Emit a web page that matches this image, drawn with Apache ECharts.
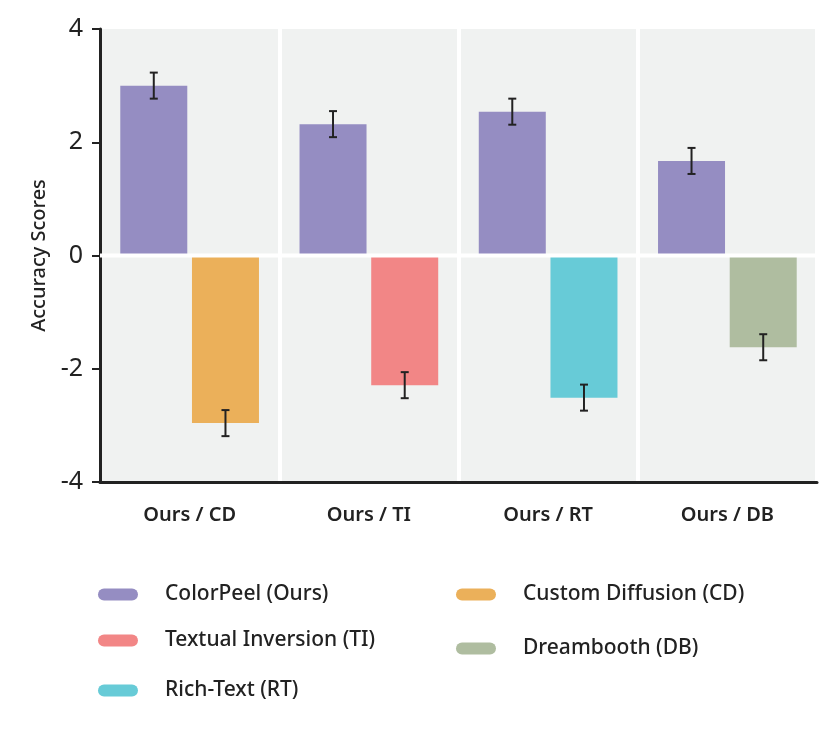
<!DOCTYPE html>
<html>
<head>
<meta charset="utf-8">
<script src="https://cdn.jsdelivr.net/npm/echarts@6/dist/echarts.min.js"></script>
<style>
  html, body { margin: 0; padding: 0; background: #fff; }
  #chart { width: 832px; height: 741px; }
</style>
</head>
<body>
<div id="chart"></div>
<script>
// data
const categories = ['Ours / CD', 'Ours / TI', 'Ours / RT', 'Ours / DB'];
const oursName = 'ColorPeel (Ours)';
const oursValues = [3.0, 2.32, 2.54, 1.67];
const oursErr = [0.23, 0.23, 0.23, 0.23];
const baselineNames = ['Custom Diffusion (CD)', 'Textual Inversion (TI)', 'Rich-Text (RT)', 'Dreambooth (DB)'];
const baselineValues = [-2.96, -2.29, -2.51, -1.62];
const baselineErr = [0.23, 0.23, 0.23, 0.23];

const colors = {
    ours: '#958dc2',
    baselines: ['#ebb05a', '#f28686', '#67cbd7', '#afbda0']
};

const barWidth = 67;
const barGapPct = 7;
const errOffset = barWidth * (1 + barGapPct / 100) / 2;
const fontFamily = '"Noto Sans", sans-serif';

let chartDom = document.getElementById('chart');
let chart = echarts.init(chartDom);

// one stack for all baselines so they share the second slot
const baselineSeries = baselineNames.map((name, i) => ({
    name: name,
    type: 'bar',
    stack: 'baseline',
    barWidth: barWidth,
    itemStyle: { color: colors.baselines[i] },
    data: categories.map((c, j) => (j === i ? baselineValues[i] : '-'))
}));

const errData = [];
oursValues.forEach((v, i) => errData.push([i, v, oursErr[i], -1]));
baselineValues.forEach((v, i) => errData.push([i, v, baselineErr[i], 1]));

const pill = 'path://M6,0 H34 A6,6 0 0 1 34,12 H6 A6,6 0 0 1 6,0 Z';
function legendAt(name, left, top) {
    return {
        data: [name],
        left: left,
        top: top,
        icon: pill,
        itemWidth: 40,
        itemHeight: 12,
        selectedMode: false,
        textStyle: {
            fontFamily: fontFamily,
            fontSize: 21,
            fontWeight: 500,
            color: '#222',
            padding: [0, 0, 0, 22]
        }
    };
}

var option = {
    animation: false,
    legend: [
        legendAt(oursName, 93, 579),
        legendAt(baselineNames[1], 93, 625),
        legendAt(baselineNames[2], 93, 675),
        legendAt(baselineNames[0], 451, 579),
        legendAt(baselineNames[3], 451, 633)
    ],
    grid: {
        left: 100,
        right: 15,
        top: 29,
        bottom: 259,
        show: true,
        backgroundColor: '#f0f2f1',
        borderWidth: 0
    },
    xAxis: {
        type: 'category',
        data: categories,
        axisLine: { onZero: false, lineStyle: { color: '#222', width: 3 } },
        axisTick: { show: false },
        axisLabel: {
            fontFamily: fontFamily,
            fontSize: 20,
            fontWeight: 600,
            color: '#222',
            margin: 23
        },
        splitLine: { show: true, lineStyle: { color: '#ffffff', width: 4 } }
    },
    yAxis: {
        type: 'value',
        min: -4,
        max: 4,
        interval: 2,
        name: 'Accuracy Scores',
        nameLocation: 'middle',
        nameRotate: 90,
        nameGap: 49,
        nameTextStyle: {
            fontFamily: fontFamily,
            fontSize: 20,
            fontWeight: 500,
            color: '#222'
        },
        axisLine: { show: true, lineStyle: { color: '#222', width: 3 } },
        axisTick: { show: true, length: 8, lineStyle: { color: '#222', width: 2 } },
        axisLabel: {
            fontFamily: fontFamily,
            fontSize: 25,
            color: '#222',
            margin: 17
        },
        splitLine: { show: false }
    },
    series: [
        {
            name: oursName,
            type: 'bar',
            barWidth: barWidth,
            barGap: barGapPct + '%',
            itemStyle: { color: colors.ours },
            data: oursValues
        },
        ...baselineSeries,
        {
            // white zero line drawn over the bars
            name: 'zero',
            type: 'custom',
            z: 5,
            silent: true,
            data: [[0, 0]],
            encode: { x: 0, y: 1 },
            renderItem: function (params, api) {
                const cs = params.coordSys;
                const y = api.coord([0, 0])[1];
                return {
                    type: 'line',
                    shape: { x1: cs.x, y1: y, x2: cs.x + cs.width, y2: y },
                    style: { stroke: '#ffffff', lineWidth: 4 }
                };
            }
        },
        {
            name: 'errors',
            type: 'custom',
            z: 10,
            silent: true,
            encode: { x: 0, y: 1 },
            data: errData,
            renderItem: function (params, api) {
                const idx = api.value(0);
                const v = api.value(1);
                const e = api.value(2);
                const side = api.value(3);
                const hi = api.coord([idx, v + e]);
                const lo = api.coord([idx, v - e]);
                const cx = hi[0] + side * errOffset;
                const cap = 4;
                const style = { stroke: '#222', lineWidth: 2 };
                return {
                    type: 'group',
                    children: [
                        { type: 'line', shape: { x1: cx, y1: hi[1], x2: cx, y2: lo[1] }, style: style },
                        { type: 'line', shape: { x1: cx - cap, y1: hi[1], x2: cx + cap, y2: hi[1] }, style: style },
                        { type: 'line', shape: { x1: cx - cap, y1: lo[1], x2: cx + cap, y2: lo[1] }, style: style }
                    ]
                };
            }
        }
    ]
};
chart.setOption(option);
</script>
</body>
</html>
